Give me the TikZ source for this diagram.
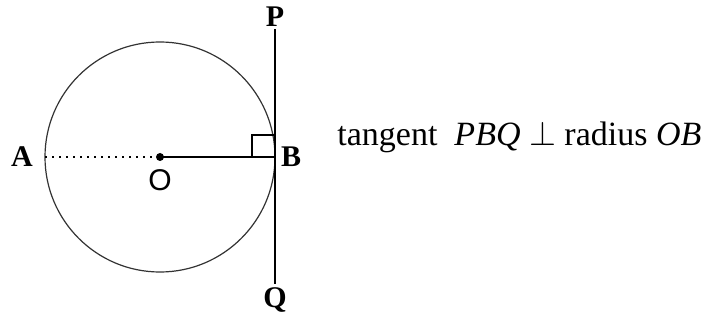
\documentclass[tikz,border=0pt]{standalone}
\usepackage{fontspec}
\setmainfont{Liberation Serif}
\newfontfamily\centrefont{Liberation Sans}
\usetikzlibrary{positioning,calc}

\tikzset{
  ptlabel/.style={font=\fontsize{15}{17}\selectfont\bfseries,inner sep=0pt},
  rim/.style={line width=0.6pt,black!80},
  stroke/.style={line width=0.8pt}
}

\begin{document}
\begin{tikzpicture}[x=0.5pt,y=-0.5pt]
\useasboundingbox (0,0) rectangle (715,320);
\coordinate (O) at (160,157);
\coordinate (A) at (45,157);
\coordinate (B) at (275,157);
\coordinate (P) at (275,29);
\coordinate (Q) at (275,284);
\draw[rim] (O) circle[radius=57.5pt];
\draw[stroke] (P) -- (Q);
\draw[stroke] (O) -- (B);
\draw[line width=1.1pt,dash pattern=on 1pt off 2.5pt] (A) -- (O);
\fill (O) circle[radius=2pt];
\draw[stroke] ($(B)+(-23,0)$) |- ($(B)+(0,-22)$);
\foreach \n/\l/\x/\y in {lA/A/22/157,lB/B/291/157,lP/P/275/17,lQ/Q/275/300}
  {\node[ptlabel] (\n) at (\x,\y) {\l};}
\node[font=\centrefont\fontsize{15}{17}\selectfont,inner sep=0pt] (lO) at (160,180) {O};
\node[anchor=base west,inner sep=0pt,font=\fontsize{17}{20}\selectfont] (note) at (337,146)
  {tangent\ \ \textit{PBQ} $\perp$ radius \textit{OB}};
\end{tikzpicture}
\end{document}
